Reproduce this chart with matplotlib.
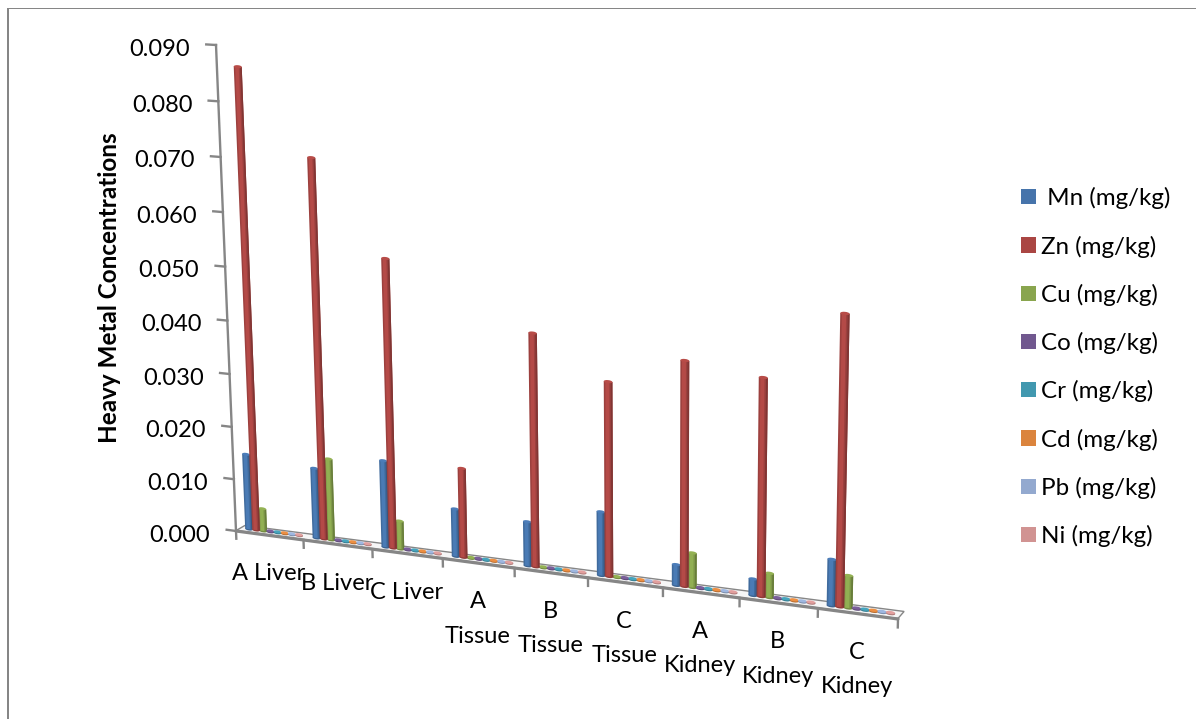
import numpy as np
import matplotlib
matplotlib.use("Agg")
import matplotlib.pyplot as plt
from matplotlib.patches import Ellipse, Rectangle
from matplotlib.transforms import Transform, Affine2D

plt.rcParams['font.family'] = ['Lato', 'DejaVu Sans']

categories = ['A Liver', 'B Liver', 'C Liver', 'A\nTissue', 'B\nTissue', 'C\nTissue',
              'A\nKidney', 'B\nKidney', 'C\nKidney']
mn = [0.0144, 0.0133, 0.0163, 0.0089, 0.0082, 0.0117, 0.0038, 0.0030, 0.0083]
zn = [0.0858, 0.0705, 0.0535, 0.0166, 0.0426, 0.0353, 0.0404, 0.0388, 0.0511]
cu = [0.0043, 0.0154, 0.0053, 0.0002, 0.0002, 0.0002, 0.0063, 0.0044, 0.0058]
co = [0.0002] * 9
cr = [0.0002] * 9
cd = [0.0002] * 9
pb = [0.0002] * 9
ni = [0.0002] * 9
series_names = [' Mn (mg/kg)', 'Zn (mg/kg)', 'Cu (mg/kg)', 'Co (mg/kg)',
                'Cr (mg/kg)', 'Cd (mg/kg)', 'Pb (mg/kg)', 'Ni (mg/kg)']
series_values = [mn, zn, cu, co, cr, cd, pb, ni]
colors = ['#4674AB', '#AA4643', '#89A54E', '#71588F', '#4198AF', '#DB843D', '#93A9CF', '#D19392']
y_ticks = [0.0, 0.01, 0.02, 0.03, 0.04, 0.05, 0.06, 0.07, 0.08, 0.09]


class Perspective(Transform):
    """Projective map of (category, value) onto image pixels."""
    input_dims = output_dims = 2
    is_separable = False
    has_inverse = False

    def __init__(self, src, dst):
        super().__init__()
        A, b = [], []
        for (x, y), (u, v) in zip(src, dst):
            A.append([x, y, 1, 0, 0, 0, -u * x, -u * y]); b.append(u)
            A.append([0, 0, 0, x, y, 1, -v * x, -v * y]); b.append(v)
        h = np.linalg.solve(np.array(A, float), np.array(b, float))
        self.h = np.append(h, 1).reshape(3, 3)

    def transform_non_affine(self, values):
        values = np.asarray(values, float)
        p = np.c_[values, np.ones(len(values))] @ self.h.T
        return p[:, :2] / p[:, 2:]


W, H = 1196, 719
fig = plt.figure(figsize=(W / 100, H / 100), dpi=100, facecolor='white')
ax = fig.add_axes([0, 0, 1, 1])
ax.axis('off')
ax.set_xlim(0, 9)
ax.set_ylim(-0.002, 0.09)

to_px = Affine2D().scale(1, -1).translate(0, H)
src = [(0, 0), (9, 0), (0, 0.09), (9, 0.09)]
front = Perspective(src, [(236, 531), (898, 619), (216, 45), (911, 86)]) + to_px
plane = Perspective(src, [(240.5, 528), (901, 615), (220.5, 42), (914, 82)]) + to_px

GRAY = '#868686'
# chart frame
ax.add_patch(Rectangle((7, 0), 2, H - 8, transform=Affine2D(), fc=GRAY, ec='none', clip_on=False))
ax.add_patch(Rectangle((7, H - 9), W, 1, transform=Affine2D(), fc=GRAY, ec='none', clip_on=False))

# floor
ax.fill([-0.067, 8.963, 9.037, 0.067], [-0.0006, -0.0007, 0.0007, 0.0006], transform=plane,
        fc='#f6f6f6', ec=GRAY, lw=1.0, zorder=1)
ax.plot([0, 9], [0, 0], transform=front, color=GRAY, lw=2.3, zorder=1.5, solid_capstyle='round')

# value axis
ax.plot([0, 0], [0, 0.09], transform=front, color=GRAY, lw=1.7, zorder=1.5)
for v in y_ticks:
    ax.plot([-0.14, 0], [v, v], transform=front, color=GRAY, lw=1.7, zorder=1.5)
    ax.annotate(f'{v:.3f}', xy=(0, v), xycoords=front, xytext=(-26, -4), textcoords='offset pixels',
                ha='right', va='center', fontsize=17, color='black')
# category axis
for i in range(10):
    ax.plot([i, i], [0, -0.0015], transform=front, color=GRAY, lw=1.7, zorder=1.5)
for i, c in enumerate(categories):
    ax.annotate(c, xy=(i + 0.5, 0), xycoords=front, xytext=(-1, -28), textcoords='offset pixels',
                ha='center', va='top', multialignment='center', fontsize=17, linespacing=1.8)

# bars
OFFSET, BW = 0.07, 0.106
BAR = BW * 1.08
CAP = 0.00055


def shade(color, f):
    c = np.array(matplotlib.colors.to_rgb(color))
    return tuple(np.clip(c * f, 0, 1))


order = [0, 2, 1, 3, 4, 5, 6, 7]
for k in order:
    vals = series_values[k]
    col = colors[k]
    x = np.arange(9) + OFFSET + k * BW
    z = 3 + (1 if k == 1 else 0)
    ax.bar(x, vals, BAR, align='edge', transform=plane, color=shade(col, 0.92), lw=0, zorder=z)
    ax.bar(x + BAR * 0.18, vals, BAR * 0.45, align='edge', transform=plane, color=shade(col, 1.06), lw=0, zorder=z)
    ax.bar(x + BAR * 0.80, vals, BAR * 0.20, align='edge', transform=plane, color=shade(col, 0.76), lw=0, zorder=z)
    for xi, v in zip(x, vals):
        ax.add_patch(Ellipse((xi + BAR * 0.5, 0), BAR, CAP, transform=plane,
                             fc=shade(col, 0.85), ec='none', zorder=z - 0.1))
        ax.add_patch(Ellipse((xi + BAR * 0.5, v), BAR, CAP, transform=plane,
                             fc=shade(col, 1.08), ec='none', zorder=z + 0.1))

# axis title
fig.text(110 / W, 1 - 288 / H, 'Heavy Metal Concentrations', rotation=90, ha='center', va='center',
         fontsize=17.5, fontweight='bold', color='black')

# legend
handles = [Rectangle((0, 0), 1, 1, fc=c, ec='none') for c in colors]
ax.legend(handles, series_names, loc='upper left', bbox_to_anchor=(1014 / W, 1 - 180 / H),
          bbox_transform=fig.transFigure, frameon=False, fontsize=17.4, ncol=1,
          handlelength=0.6, handleheight=0.6, handletextpad=0.2, labelspacing=1.082,
          borderpad=0.3, borderaxespad=0)

fig.savefig('out.png', dpi=100, facecolor='white')
